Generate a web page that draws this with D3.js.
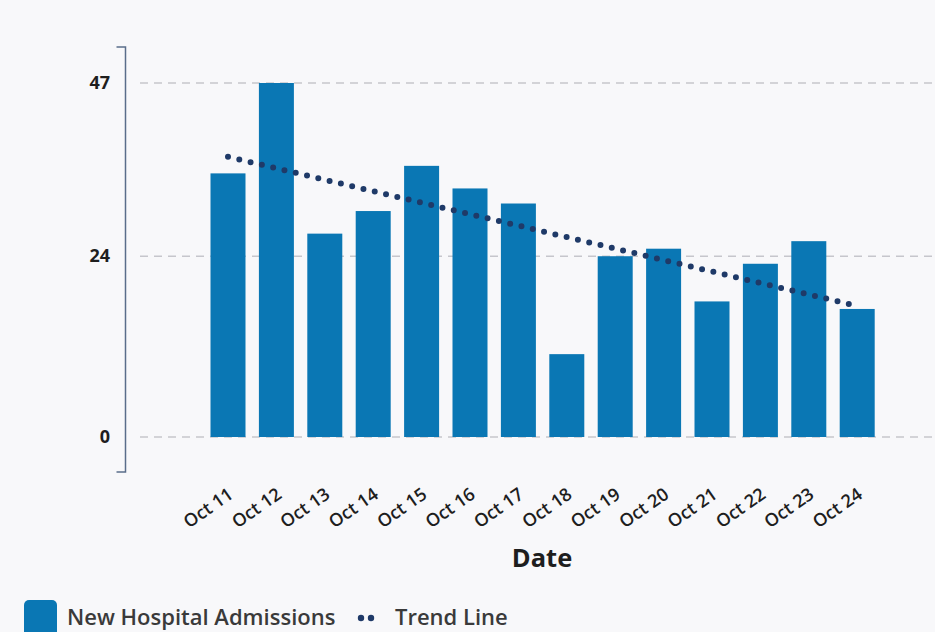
<!DOCTYPE html>
<html><head><meta charset="utf-8">
<script src="https://cdn.jsdelivr.net/npm/d3@7"></script>
<style>
html,body{margin:0;padding:0;background:#f8f8fa;}
svg{display:block;}
</style></head>
<body>
<svg id="chart" width="935" height="632"></svg>
<script>
const categories = ["Oct 11","Oct 12","Oct 13","Oct 14","Oct 15","Oct 16","Oct 17","Oct 18","Oct 19","Oct 20","Oct 21","Oct 22","Oct 23","Oct 24"];
const admissions = [35,47,27,30,36,33,31,11,24,25,18,23,26,17];
const trendEnds = [37.2, 17.4];
const yTicks = [0,24,47];

const svg = d3.select("#chart");
svg.append("rect").attr("width",935).attr("height",632).attr("fill","#f8f8fa");

const x = d3.scaleBand().domain(categories).range([186.3, 898.9]).paddingInner(0.277).paddingOuter(0.5);
const y = d3.scaleLinear().domain([0,47]).range([437,83]);

// gridlines
svg.append("g").selectAll("line").data(yTicks).join("line")
  .attr("x1",140).attr("x2",935)
  .attr("y1",d=>y(d)).attr("y2",d=>y(d))
  .attr("stroke","#c6c6cc").attr("stroke-width",1.3).attr("stroke-dasharray","8,6");

// axis bracket
const ax = 125.5;
svg.append("path")
  .attr("d",`M${ax-9},${y(0)+35}H${ax}V${y(47)-36}H${ax-9}`)
  .attr("fill","none").attr("stroke","#5a6d8a").attr("stroke-width",1.5);

// y tick labels
svg.append("g").selectAll("text").data(yTicks).join("text")
  .attr("x",110).attr("y",d=>y(d)).attr("dy","0.33em")
  .attr("text-anchor","end")
  .attr("font-family","Open Sans").attr("font-weight",700).attr("font-size",18)
  .attr("fill","#1e1e1e").text(d=>d);

// bars
svg.append("g").selectAll("rect").data(admissions).join("rect")
  .attr("x",(d,i)=>x(categories[i])).attr("width",x.bandwidth())
  .attr("y",d=>y(d)).attr("height",d=>y(0)-y(d))
  .attr("fill","#0a77b4");

// trend line dots
const tx0 = x(categories[0])+x.bandwidth()/2, tx1 = x(categories[categories.length-1])+x.bandwidth()/2;
svg.append("line")
  .attr("x1",tx0).attr("y1",y(trendEnds[0]))
  .attr("x2",tx1).attr("y2",y(trendEnds[1]))
  .attr("stroke","#1f3a68").attr("stroke-width",6)
  .attr("stroke-linecap","round").attr("stroke-dasharray","0,11.6");

// x labels
svg.append("g").selectAll("text").data(categories).join("text")
  .attr("transform",d=>`translate(${x(d)+x.bandwidth()/2+6.5},${497}) rotate(-35)`)
  .attr("text-anchor","end")
  .attr("font-family","Open Sans").attr("font-weight",600).attr("font-size",18)
  .attr("fill","#1e1e1e").text(d=>d);

// x title
svg.append("text").attr("x",542).attr("y",567).attr("text-anchor","middle")
  .attr("font-family","Open Sans").attr("font-weight",700).attr("font-size",25.5)
  .attr("fill","#1e1e1e").text("Date");

// legend
svg.append("rect").attr("x",24).attr("y",600).attr("width",33).attr("height",40).attr("rx",5)
  .attr("fill","#0a77b4");
svg.append("text").attr("x",67).attr("y",625)
  .attr("font-family","Open Sans").attr("font-weight",600).attr("font-size",22)
  .attr("fill","#3a3a3a").text("New Hospital Admissions");
svg.append("g").selectAll("circle").data([361,371]).join("circle")
  .attr("cx",d=>d).attr("cy",618).attr("r",3.2).attr("fill","#1f3a68");
svg.append("text").attr("x",395).attr("y",625)
  .attr("font-family","Open Sans").attr("font-weight",600).attr("font-size",22)
  .attr("fill","#3a3a3a").text("Trend Line");
</script>
</body></html>
